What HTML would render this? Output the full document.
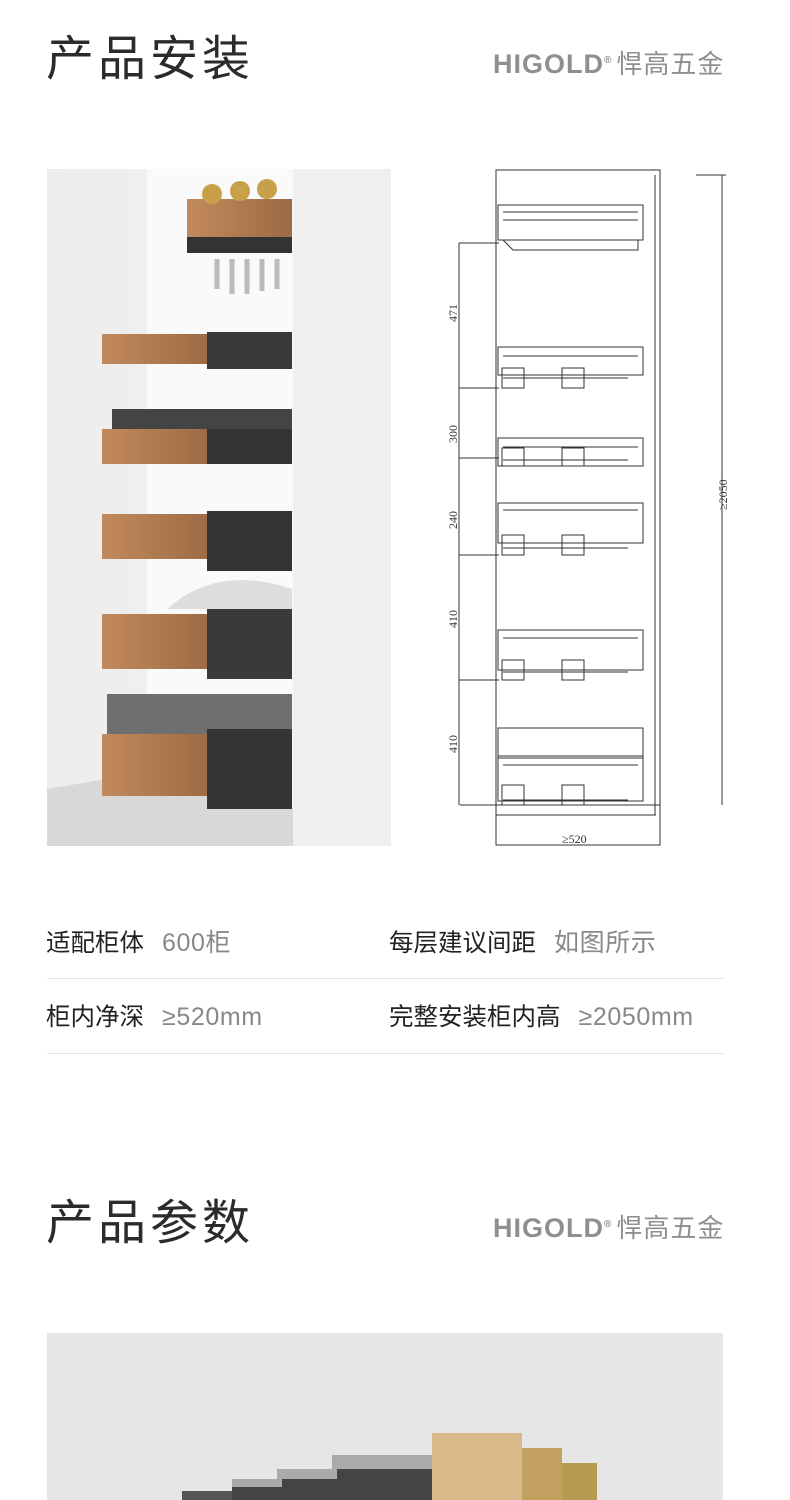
<!DOCTYPE html>
<html><head><meta charset="utf-8"><style>
body{margin:0;width:790px;height:1500px;background:#fff;position:relative;overflow:hidden;font-family:"Liberation Sans","Noto Sans CJK SC",sans-serif}
.a{position:absolute}
.t{font-size:48px;color:#2b2b2b;letter-spacing:4px;line-height:56px}
.logo{font-size:27px;color:#8f8f8f;font-weight:bold;letter-spacing:1px;white-space:nowrap}
.logo span{font-weight:normal;font-size:26px;letter-spacing:1px;margin-left:4px}
.s{font-size:24.5px;color:#222;white-space:nowrap;line-height:30px}
.s i{font-style:normal;color:#888;margin-left:18px;font-size:25px;letter-spacing:0.6px}
.hr{height:1px;background:#e3e3e3;left:47px;width:676px}
</style></head><body>
<div class="a t" style="left:46px;top:32px">产品安装</div>
<div class="a logo" style="left:493px;top:44px">HIGOLD<sup style="font-size:10px">®</sup><span>悍高五金</span></div>

<svg class="a" style="left:47px;top:169px" width="344" height="677">
<defs><linearGradient id="w" x1="0" x2="1"><stop offset="0" stop-color="#c28a5c"/><stop offset="1" stop-color="#9c6a44"/></linearGradient>
<linearGradient id="bg" x1="0" x2="1"><stop offset="0" stop-color="#ececec"/><stop offset="1" stop-color="#f7f7f7"/></linearGradient></defs>
<rect width="344" height="677" fill="url(#bg)"/>
<rect x="100" y="0" width="146" height="640" fill="#fafafa"/>
<rect x="246" y="0" width="98" height="677" fill="#f1f1f1"/>
<polygon points="0,620 120,600 246,640 246,677 0,677" fill="#d8d8d8"/>
<rect x="140" y="30" width="105" height="40" fill="url(#w)"/><rect x="140" y="68" width="105" height="16" fill="#333"/>
<circle cx="165" cy="25" r="10" fill="#c9a04a"/><circle cx="193" cy="22" r="10" fill="#c9a04a"/><circle cx="220" cy="20" r="10" fill="#c9a04a"/>
<path d="M170 90 l0 30 M185 90 l0 35 M200 90 l0 35 M215 90 l0 32 M230 90 l0 30" stroke="#bbb" stroke-width="5"/>
<rect x="55" y="165" width="110" height="30" fill="url(#w)"/><rect x="160" y="163" width="85" height="37" fill="#3a3a3a"/>
<rect x="55" y="260" width="110" height="35" fill="url(#w)"/><rect x="160" y="255" width="85" height="40" fill="#333"/>
<rect x="65" y="240" width="180" height="20" fill="#444"/>
<rect x="55" y="345" width="110" height="45" fill="url(#w)"/><rect x="160" y="342" width="85" height="60" fill="#333"/>
<rect x="55" y="445" width="110" height="55" fill="url(#w)"/><rect x="160" y="440" width="85" height="70" fill="#3a3a3a"/>
<path d="M120 440 q50 -45 125 -20 l0 20z" fill="#ddd"/>
<rect x="60" y="525" width="185" height="40" fill="#6f6f6f"/>
<rect x="55" y="565" width="110" height="62" fill="url(#w)"/><rect x="160" y="560" width="85" height="80" fill="#353535"/>
<rect x="246" y="0" width="98" height="677" fill="#efefef" opacity=".6"/>
</svg>

<svg class="a" style="left:440px;top:160px" width="300" height="690" fill="none" stroke="#333" stroke-width="1">
<rect x="56" y="10" width="164" height="675"/>
<path d="M215 15 v640 M56 655 h160 M20 645 h200 M256 15 h30 M282 15 v630 M19 83 v562"/>
<path d="M19 83 h40 M19 228 h40 M19 298 h40 M19 395 h40 M19 520 h40"/>
<g font-family="Liberation Serif" font-size="12" fill="#333" stroke="none">
<text transform="translate(17,162) rotate(-90)">471</text>
<text transform="translate(17,283) rotate(-90)">300</text>
<text transform="translate(17,369) rotate(-90)">240</text>
<text transform="translate(17,468) rotate(-90)">410</text>
<text transform="translate(17,593) rotate(-90)">410</text>
<text transform="translate(287,350) rotate(-90)">≥2050</text>
<text x="122" y="683">≥520</text>
</g>
<g stroke-width="1">
<rect x="58" y="45" width="145" height="35"/><path d="M63 52 h135 M63 60 h135 M63 80 l10 10 h125 v-10"/>
<rect x="58" y="187" width="145" height="28"/><path d="M63 196 h135 M63 218 h125"/><rect x="62" y="208" width="22" height="20"/><rect x="122" y="208" width="22" height="20"/>
<rect x="58" y="278" width="145" height="28"/><path d="M63 287 h135 M63 300 h125"/><rect x="62" y="288" width="22" height="18"/><rect x="122" y="288" width="22" height="18"/>
<rect x="58" y="343" width="145" height="40"/><path d="M63 350 h135 M63 388 h125"/><rect x="62" y="375" width="22" height="20"/><rect x="122" y="375" width="22" height="20"/>
<rect x="58" y="470" width="145" height="40"/><path d="M63 478 h135 M63 512 h125"/><rect x="62" y="500" width="22" height="20"/><rect x="122" y="500" width="22" height="20"/>
<rect x="58" y="568" width="145" height="30"/><rect x="58" y="596" width="145" height="45"/><path d="M63 605 h135 M63 640 h125"/><rect x="62" y="625" width="22" height="20"/><rect x="122" y="625" width="22" height="20"/>
</g>
</svg>

<div class="a s" style="left:46px;top:928px">适配柜体<i>600柜</i></div>
<div class="a s" style="left:389px;top:928px">每层建议间距<i>如图所示</i></div>
<div class="a hr" style="top:978px"></div>
<div class="a s" style="left:46px;top:1002px">柜内净深<i>≥520mm</i></div>
<div class="a s" style="left:389px;top:1002px">完整安装柜内高<i>≥2050mm</i></div>
<div class="a hr" style="top:1053px"></div>

<div class="a t" style="left:46px;top:1196px">产品参数</div>
<div class="a logo" style="left:493px;top:1208px">HIGOLD<sup style="font-size:10px">®</sup><span>悍高五金</span></div>

<svg class="a" style="left:47px;top:1333px" width="676" height="167">
<rect width="676" height="167" fill="#e6e6e6"/>
<rect x="385" y="100" width="90" height="67" fill="#d9b98a"/>
<rect x="475" y="115" width="40" height="52" fill="#c2a060"/>
<rect x="515" y="130" width="35" height="37" fill="#b89a50"/>
<rect x="285" y="128" width="100" height="39" fill="#444"/><rect x="285" y="122" width="100" height="14" fill="#aaa"/>
<rect x="230" y="140" width="60" height="27" fill="#444"/><rect x="230" y="136" width="60" height="10" fill="#aaa"/>
<rect x="185" y="150" width="50" height="17" fill="#444"/><rect x="185" y="146" width="50" height="8" fill="#aaa"/>
<rect x="135" y="158" width="50" height="9" fill="#555"/>
</svg>
</body></html>
